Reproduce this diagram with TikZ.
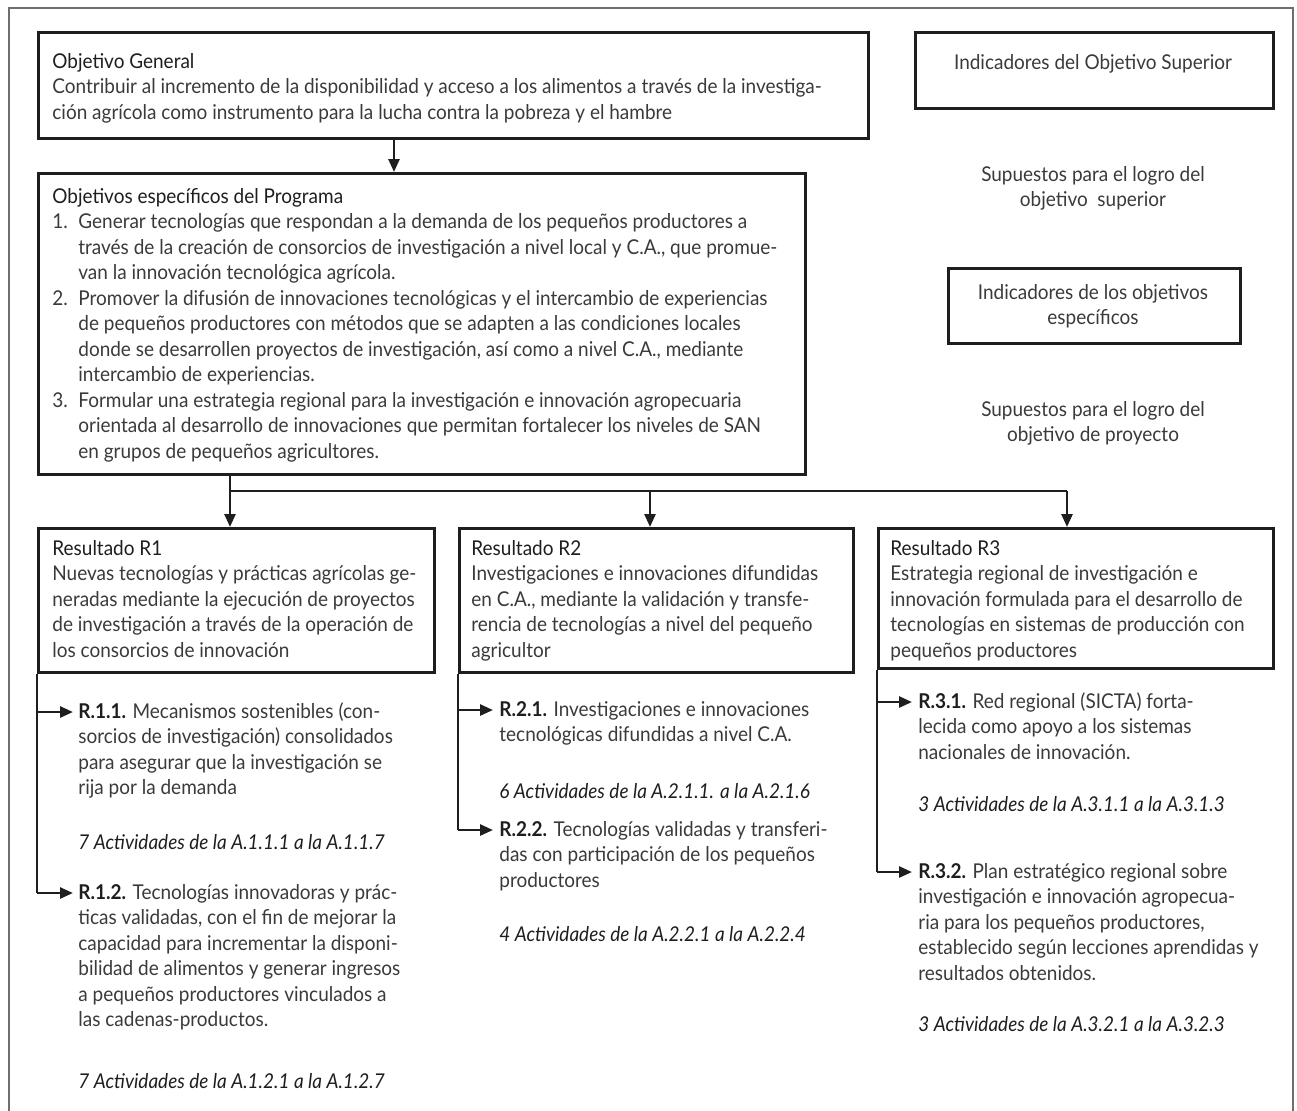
\documentclass[tikz,border=0pt]{standalone}
\usepackage{fontspec}
\setmainfont{Lato}[FakeStretch=0.93]
\usetikzlibrary{arrows.meta}
\definecolor{txt}{HTML}{3A3A3A}
\definecolor{hd}{HTML}{1E1E1E}
\definecolor{frame}{HTML}{6E6E6E}
\begin{document}
\begin{tikzpicture}[x=0.5pt,y=-0.5pt,
  box/.style={draw=hd, line width=1.4pt, rectangle, inner sep=0pt, anchor=north west},
  tx/.style={anchor=north west, inner sep=0pt, align=left, text=txt, font=\fontsize{10.2}{12.75}\selectfont},
  ctx/.style={anchor=north, inner sep=0pt, align=center, text=txt, font=\fontsize{10.2}{12.75}\selectfont},
  conn/.style={draw=hd, line width=1.3pt},
  arr/.style={conn, -{Triangle[length=6.5pt,width=5.5pt]}},
  hdg/.style={text=hd}
]
\useasboundingbox (0,0) rectangle (1297,1110);
% outer frame
\coordinate (fbl) at (9,1112);
\coordinate (ftl) at (9,8);
\coordinate (ftr) at (1293,8);
\coordinate (fbr) at (1293,1112);
\draw[draw=frame, line width=0.9pt] (fbl) -- (ftl) -- (ftr) -- (fbr);

% boxes
\node[box, minimum width=415pt, minimum height=53pt] (OG) at (37,31) {};
\node[box, minimum width=179pt, minimum height=38pt] (IOS) at (914,31) {};
\node[box, minimum width=383.5pt, minimum height=150.5pt] (OE) at (37,172) {};
\node[box, minimum width=146pt, minimum height=37.5pt] (IOE) at (947,267) {};
\node[box, minimum width=198pt, minimum height=72pt] (R1) at (37,527) {};
\node[box, minimum width=197pt, minimum height=72pt] (R2) at (458,527) {};
\node[box, minimum width=197.5pt, minimum height=70pt] (R3) at (877,527) {};

% texts in boxes
\node[tx] (tOG) at (52,50.15) {\strut\textcolor{hd}{Objetivo General}\\
Contribuir al incremento de la disponibilidad y acceso a los alimentos a través de la investiga-\\
ción agrícola como instrumento para la lucha contra la pobreza y el hambre};

\node[tx] (tOE) at (52,185.15) {\strut\textcolor{hd}{Objetivos específicos del Programa}\\
\makebox[13pt][l]{1.}Generar tecnologías que respondan a la demanda de los pequeños productores a\\
\hspace*{13pt}través de la creación de consorcios de investigación a nivel local y C.A., que promue-\\
\hspace*{13pt}van la innovación tecnológica agrícola.\\
\makebox[13pt][l]{2.}Promover la difusión de innovaciones tecnológicas y el intercambio de experiencias\\
\hspace*{13pt}de pequeños productores con métodos que se adapten a las condiciones locales\\
\hspace*{13pt}donde se desarrollen proyectos de investigación, así como a nivel C.A., mediante\\
\hspace*{13pt}intercambio de experiencias.\\
\makebox[13pt][l]{3.}Formular una estrategia regional para la investigación e innovación agropecuaria\\
\hspace*{13pt}orientada al desarrollo de innovaciones que permitan fortalecer los niveles de SAN\\
\hspace*{13pt}en grupos de pequeños agricultores.};

\node[ctx] (tIOS) at (1093,51.15) {\strut Indicadores del Objetivo Superior};
\node[ctx] (tS1) at (1093,163.15) {\strut Supuestos para el logro del\\objetivo\ \ superior};
\node[ctx] (tIOE) at (1093,281.15) {\strut Indicadores de los objetivos\\específicos};
\node[ctx] (tS2) at (1093,398.15) {\strut Supuestos para el logro del\\objetivo de proyecto};

\node[tx] (tR1) at (52,537.15) {\strut\textcolor{hd}{Resultado R1}\\
Nuevas tecnologías y prácticas agrícolas ge-\\
neradas mediante la ejecución de proyectos\\
de investigación a través de la operación de\\
los consorcios de innovación};
\node[tx] (tR2) at (471,537.15) {\strut\textcolor{hd}{Resultado R2}\\
Investigaciones e innovaciones difundidas\\
en C.A., mediante la validación y transfe-\\
rencia de tecnologías a nivel del pequeño\\
agricultor};
\node[tx] (tR3) at (890,537.15) {\strut\textcolor{hd}{Resultado R3}\\
Estrategia regional de investigación e\\
innovación formulada para el desarrollo de\\
tecnologías en sistemas de producción con\\
pequeños productores};

% sub-results
\node[tx] (t11) at (78,700.15) {\strut\textcolor{hd}{\bfseries R.1.1.} Mecanismos sostenibles (con-\\
sorcios de investigación) consolidados\\
para asegurar que la investigación se\\
rija por la demanda};
\node[tx] (a11) at (78,831.15) {\strut\textcolor{hd}{\itshape 7 Actividades de la A.1.1.1 a la A.1.1.7}};
\node[tx] (t12) at (78,881.15) {\strut\textcolor{hd}{\bfseries R.1.2.} Tecnologías innovadoras y prác-\\
ticas validadas, con el fin de mejorar la\\
capacidad para incrementar la disponi-\\
bilidad de alimentos y generar ingresos\\
a pequeños productores vinculados a\\
las cadenas-productos.};
\node[tx] (a12) at (78,1070.15) {\strut\textcolor{hd}{\itshape 7 Actividades de la A.1.2.1 a la A.1.2.7}};

\node[tx] (t21) at (499,698.15) {\strut\textcolor{hd}{\bfseries R.2.1.} Investigaciones e innovaciones\\
tecnológicas difundidas a nivel C.A.};
\node[tx] (a21) at (499,780.15) {\strut\textcolor{hd}{\itshape 6 Actividades de la A.2.1.1. a la A.2.1.6}};
\node[tx] (t22) at (499,818.15) {\strut\textcolor{hd}{\bfseries R.2.2.} Tecnologías validadas y transferi-\\
das con participación de los pequeños\\
productores};
\node[tx] (a22) at (499,923.15) {\strut\textcolor{hd}{\itshape 4 Actividades de la A.2.2.1 a la A.2.2.4}};

\node[tx] (t31) at (918,690.15) {\strut\textcolor{hd}{\bfseries R.3.1.} Red regional (SICTA) forta-\\
lecida como apoyo a los sistemas\\
nacionales de innovación.};
\node[tx] (a31) at (918,793.15) {\strut\textcolor{hd}{\itshape 3 Actividades de la A.3.1.1 a la A.3.1.3}};
\node[tx] (t32) at (918,860.15) {\strut\textcolor{hd}{\bfseries R.3.2.} Plan estratégico regional sobre\\
investigación e innovación agropecua-\\
ria para los pequeños productores,\\
establecido según lecciones aprendidas y\\
resultados obtenidos.};
\node[tx] (a32) at (918,1013.15) {\strut\textcolor{hd}{\itshape 3 Actividades de la A.3.2.1 a la A.3.2.3}};

% main connectors
\coordinate (xa) at (394,0);
\draw[arr] (OG.south -| xa) -- (OE.north -| xa);
\coordinate (x1) at (230,0);
\coordinate (x2) at (650,0);
\coordinate (x3) at (1067,0);
\coordinate (hy) at (0,491);
\draw[conn] (x1 |- hy) -- (x3 |- hy);
\draw[arr] (OE.south -| x1) -- (R1.north -| x1);
\draw[arr] (x2 |- hy) -- (R2.north -| x2);
\draw[arr] (x3 |- hy) -- (R3.north -| x3);

% sub connectors R1
\coordinate (j11) at (37,712);
\coordinate (p11) at (73,712);
\coordinate (j12) at (37,893);
\coordinate (p12) at (73,893);
\draw[conn] (R1.south west) -- (j12);
\draw[arr] (j11) -- (p11);
\draw[arr] (j12) -- (p12);
% R2
\coordinate (j21) at (458,710);
\coordinate (p21) at (493,710);
\coordinate (j22) at (458,830);
\coordinate (p22) at (493,830);
\draw[conn] (R2.south west) -- (j22);
\draw[arr] (j21) -- (p21);
\draw[arr] (j22) -- (p22);
% R3
\coordinate (j31) at (877,702);
\coordinate (p31) at (912,702);
\coordinate (j32) at (877,872);
\coordinate (p32) at (912,872);
\draw[conn] (R3.south west) -- (j32);
\draw[arr] (j31) -- (p31);
\draw[arr] (j32) -- (p32);
\end{tikzpicture}
\end{document}
